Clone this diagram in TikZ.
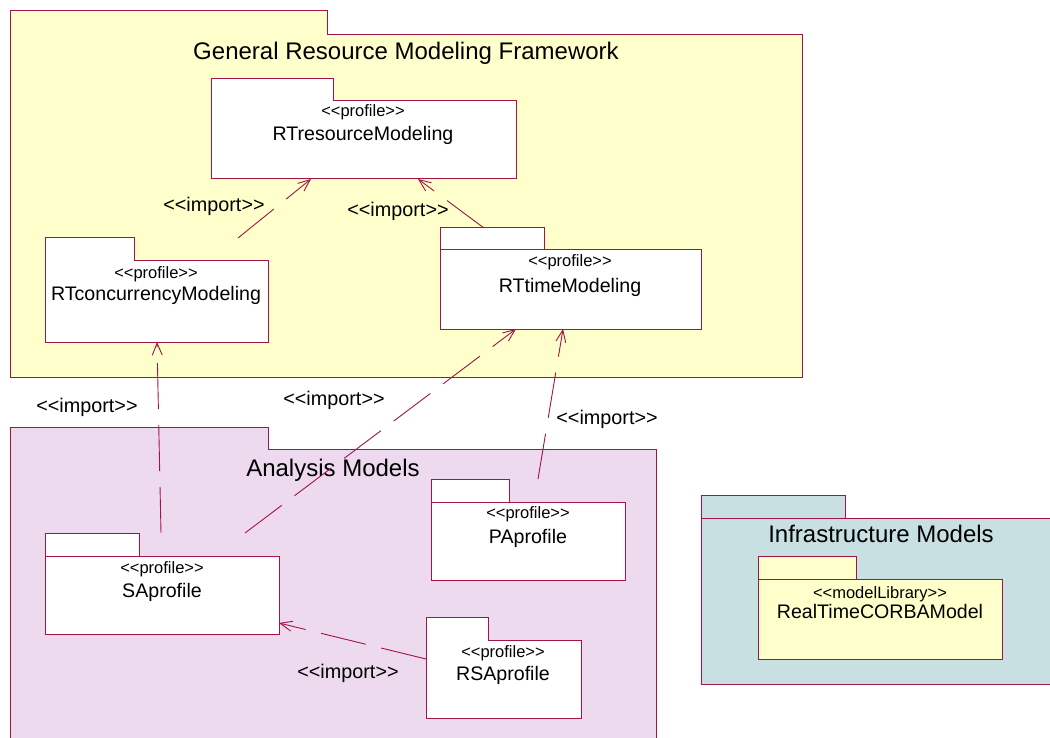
\documentclass[tikz,border=0pt]{standalone}
\usepackage{fontspec}
\setmainfont{Liberation Sans}
\usetikzlibrary{arrows.meta,calc}

\definecolor{umlline}{RGB}{160,20,70}
\definecolor{umlyellow}{RGB}{255,255,204}
\definecolor{umlpink}{RGB}{237,218,238}
\definecolor{umlblue}{RGB}{201,224,226}

% stereotype brackets (a kern keeps "<<" from becoming a guillemet)
\newcommand{\stopen}{<\kern0pt<}
\newcommand{\stclose}{>\kern0pt>}

\tikzset{
  pkgframe/.style={draw=none,inner sep=0pt,outer sep=0pt,anchor=north west},
  pkgline/.style={draw=umlline,line width=1pt,line join=miter},
  tabline/.style={draw=umlline,line width=1pt},
  notabline/.style={draw=none},
  pkgtitle/.style={font=\fontsize{24}{27}\selectfont,anchor=base,inner sep=0pt},
  pkgname/.style={font=\fontsize{19.6}{22}\selectfont,anchor=base,inner sep=0pt},
  stereo/.style={font=\fontsize{16.5}{19}\selectfont,anchor=base,inner sep=0pt},
  implabel/.style={font=\fontsize{19.8}{22}\selectfont,anchor=base,inner sep=0pt},
  importdep/.style={draw=umlline,line width=0.9pt,dash pattern=on 46pt off 16pt,
    -{Straight Barb[length=12pt,width=10pt,line width=0.9pt]}},
}

% package symbol: #1 name, #2,#3 top-left, #4 tab width, #5 tab height,
% #6 total width, #7 total height, #8 fill colour, #9 style of the line under the tab
\newcommand{\umlpackage}[9]{%
  \node[pkgframe,minimum width=#6pt,minimum height=#7pt] (#1) at (#2,#3) {};
  \fill[#8] (#1.north west) -- ++(#4,0) -- ++(0,#5) -- ($(#1.north east)+(0,#5)$)
     -- (#1.south east) -- (#1.south west) -- cycle;
  \path[#9] ($(#1.north west)+(0,#5)$) -- ++(#4,0);
  \draw[pkgline] (#1.north west) -- ++(#4,0) -- ++(0,#5) -- ($(#1.north east)+(0,#5)$)
     -- (#1.south east) -- (#1.south west) -- cycle;
}

\begin{document}
\begin{tikzpicture}[x=1pt,y=-1pt]
\useasboundingbox (0,0) rectangle (1050,738);

% outer packages
\umlpackage{grmf}{10}{11}{317}{24}{792}{366}{umlyellow}{notabline}
\umlpackage{am}{10}{427}{258}{22}{646}{340}{umlpink}{notabline}
\umlpackage{inf}{701}{495}{144}{23}{360}{189}{umlblue}{tabline}

\node[pkgtitle] (grmft) at (406,60) {General Resource Modeling Framework};
\node[pkgtitle] (amt) at (333,476) {Analysis Models};
\node[pkgtitle] (inft) at (881,542) {Infrastructure Models};

% profiles
\umlpackage{rtr}{211}{79}{122}{22}{305}{100}{white}{notabline}
\umlpackage{rtc}{45}{238}{89}{23}{223}{104}{white}{notabline}
\umlpackage{rtt}{440}{228}{104}{22}{261}{101}{white}{tabline}
\umlpackage{sa}{45}{533}{94}{23}{234}{101}{white}{tabline}
\umlpackage{pa}{431}{479}{78}{23}{194}{101}{white}{tabline}
\umlpackage{rsa}{426}{617}{62}{23}{155}{101}{white}{notabline}
\umlpackage{corba}{758}{556}{98}{23}{244}{103}{umlyellow}{tabline}

\node[stereo] (rtrs) at (363,117) {\stopen profile\stclose};
\node[pkgname] (rtrn) at (363,141) {RTresourceModeling};
\node[stereo] (rtcs) at (156,279) {\stopen profile\stclose};
\node[pkgname] (rtcn) at (156,301) {RTconcurrencyModeling};
\node[stereo] (rtts) at (570,267) {\stopen profile\stclose};
\node[pkgname] (rttn) at (570,293) {RTtimeModeling};
\node[stereo] (sas) at (162,573) {\stopen profile\stclose};
\node[pkgname] (san) at (162,597) {SAprofile};
\node[stereo] (pas) at (528,518) {\stopen profile\stclose};
\node[pkgname] (pan) at (528,543) {PAprofile};
\node[stereo] (rsas) at (503,657) {\stopen profile\stclose};
\node[pkgname] (rsan) at (503,680) {RSAprofile};
\node[stereo] (corbas) at (880,598) {\stopen modelLibrary\stclose};
\node[pkgname] (corban) at (880,618) {RealTimeCORBAModel};

% import dependencies
\draw[importdep] ($(rtc.north west)+(193,0)$) -- ($(rtr.south west)+(100,0)$);
\draw[importdep] ($(rtt.north west)+(44,0)$) -- ($(rtr.south west)+(207,0)$);
\draw[importdep] ($(sa.north west)+(116,0)$) -- ($(rtc.south west)+(112,0)$);
\draw[importdep] ($(sa.north west)+(200,0)$) -- ($(rtt.south west)+(76,0)$);
\draw[importdep] ($(pa.north west)+(107,0)$) -- ($(rtt.south west)+(123,0)$);
\draw[importdep] ($(rsa.north west)+(0,42)$) -- ($(sa.south east)+(0,-11)$);

\node[implabel] (imp1) at (214,212) {\stopen import\stclose};
\node[implabel] (imp2) at (398,217) {\stopen import\stclose};
\node[implabel] (imp3) at (87,412) {\stopen import\stclose};
\node[implabel] (imp4) at (334,405) {\stopen import\stclose};
\node[implabel] (imp5) at (607,424) {\stopen import\stclose};
\node[implabel] (imp6) at (348,678) {\stopen import\stclose};
\end{tikzpicture}
\end{document}
